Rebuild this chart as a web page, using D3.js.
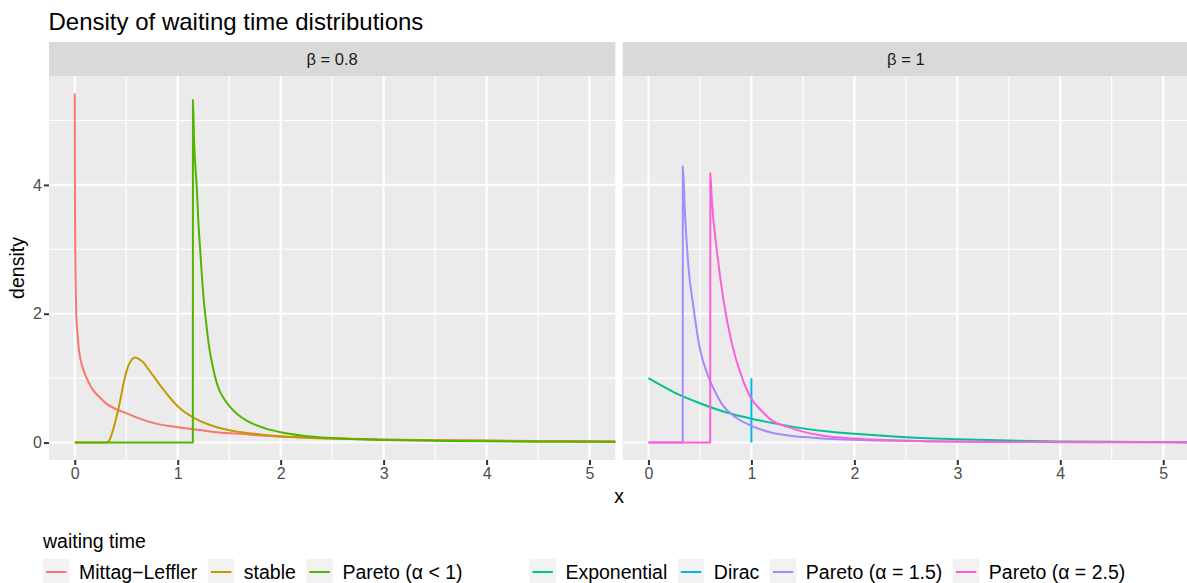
<!DOCTYPE html>
<html><head><meta charset="utf-8">
<script src="https://cdn.jsdelivr.net/npm/d3@7"></script>
<style>body{margin:0;background:#fff} svg{display:block} text{font-family:"Liberation Sans",Arial,Helvetica,sans-serif}</style>
</head><body><svg id="c" width="1187" height="583"></svg>
<script>
// ---------- data ----------
const titleText = "Density of waiting time distributions";
const panelLabels = ["β = 0.8", "β = 1"];
const xTicks = [0, 1, 2, 3, 4, 5];
const xMinor = [0.5, 1.5, 2.5, 3.5, 4.5];
const yTicks = [0, 2, 4];
const yMinor = [1, 3, 5];
const seriesNames = ["Mittag−Leffler", "stable", "Pareto (α < 1)", "Exponential", "Dirac", "Pareto (α = 1.5)", "Pareto (α = 2.5)"];
const seriesPanel = [0, 0, 0, 1, 1, 1, 1];
const seriesColors = ["#F8766D", "#C49A00", "#53B400", "#00C094", "#00B6EB", "#A58AFF", "#FB61D7"];

const mlX = [0, 0.002, 0.005, 0.008, 0.015, 0.025, 0.037, 0.055, 0.085, 0.13, 0.18, 0.25, 0.31, 0.4, 0.51, 0.65, 0.8, 0.95, 1.14, 1.35, 1.61, 1.85, 2.09, 2.5, 3, 3.5, 4, 4.5, 5, 5.5, 6];
const mlY = [5.42, 3.8, 3.0, 2.53, 2.0, 1.72, 1.49, 1.3, 1.125, 0.95, 0.81, 0.69, 0.60, 0.52, 0.45, 0.36, 0.29, 0.25, 0.21, 0.165, 0.135, 0.105, 0.085, 0.065, 0.048, 0.037, 0.03, 0.025, 0.021, 0.018, 0.015];

const stX = [0, 0.25, 0.3, 0.33, 0.36, 0.39, 0.425, 0.45, 0.474, 0.5, 0.52, 0.55, 0.587, 0.62, 0.668, 0.71, 0.765, 0.81, 0.862, 0.96, 1.03, 1.14, 1.3, 1.445, 1.6, 1.8, 2.0, 2.3, 2.6, 3, 3.5, 4, 4.5, 5, 5.5, 6];
const stY = [0, 0, 0.0, 0.02, 0.13, 0.3, 0.53, 0.72, 0.92, 1.09, 1.19, 1.28, 1.32, 1.30, 1.24, 1.15, 1.03, 0.93, 0.82, 0.63, 0.52, 0.40, 0.28, 0.21, 0.165, 0.125, 0.097, 0.072, 0.058, 0.045, 0.034, 0.027, 0.022, 0.018, 0.015, 0.013];

const p1X = [0, 1.147, 1.148, 1.16, 1.186, 1.2, 1.218, 1.25, 1.275, 1.30, 1.34, 1.38, 1.42, 1.45, 1.51, 1.58, 1.67, 1.85, 2.0, 2.2, 2.48, 2.75, 2.97, 3.5, 4, 4.5, 5, 5.5, 6];
const p1Y = [0, 0, 5.32, 4.65, 3.94, 3.45, 3.0, 2.27, 1.88, 1.54, 1.18, 0.92, 0.76, 0.68, 0.55, 0.44, 0.34, 0.22, 0.16, 0.11, 0.07, 0.05, 0.04, 0.027, 0.019, 0.014, 0.011, 0.009, 0.007];

const exX = [0, 0.25, 0.5, 0.75, 1, 1.25, 1.5, 1.75, 2, 2.5, 3, 3.5, 4, 4.5, 5, 5.5, 6];
const exY = [1.0, 0.78, 0.61, 0.47, 0.37, 0.29, 0.22, 0.17, 0.135, 0.082, 0.05, 0.03, 0.018, 0.011, 0.007, 0.004, 0.0025];

const diX = [1, 1];
const diY = [0, 1];

const p15X = [0, 0.333, 0.334, 0.356, 0.388, 0.437, 0.502, 0.583, 0.65, 0.712, 0.84, 1.0, 1.18, 1.36, 1.6, 1.84, 2.23, 2.7, 3.2, 4, 5, 6];
const p15Y = [0, 0, 4.29, 3.52, 2.74, 2.1, 1.44, 1.02, 0.78, 0.60, 0.40, 0.26, 0.16, 0.11, 0.075, 0.05, 0.03, 0.018, 0.012, 0.007, 0.004, 0.003];

const p25X = [0, 0.6, 0.601, 0.615, 0.663, 0.728, 0.81, 0.906, 1.0, 1.1, 1.2, 1.36, 1.5, 1.68, 2.0, 2.23, 2.6, 3, 3.5, 4, 5, 6];
const p25Y = [0, 0, 4.18, 3.78, 3.0, 2.22, 1.54, 1.02, 0.68, 0.49, 0.34, 0.24, 0.17, 0.11, 0.062, 0.042, 0.025, 0.015, 0.009, 0.005, 0.003, 0.0013];

const seriesX = [mlX, stX, p1X, exX, diX, p15X, p25X];
const seriesY = [mlY, stY, p1Y, exY, diY, p15Y, p25Y];

// ---------- layout ----------
const svg = d3.select("#c");
const panelTop = 76, panelBottom = 460, stripTop = 42;
const panelsPx = [[49, 615.3], [622.7, 1189]];
const y = d3.scaleLinear().domain([-0.271, 5.691]).range([panelBottom, panelTop]);
const xs = panelsPx.map(p => d3.scaleLinear().domain([-0.25, 5.25]).range(p));

svg.append("text").attr("x", 48.5).attr("y", 29.5).attr("font-size", 24).attr("fill", "#000").text(titleText);

const defs = svg.append("defs");
panelsPx.forEach((p, i) => {
  defs.append("clipPath").attr("id", "clip" + i).append("rect")
    .attr("x", p[0]).attr("y", panelTop).attr("width", p[1] - p[0]).attr("height", panelBottom - panelTop);
});

panelsPx.forEach((p, i) => {
  const x = xs[i];
  const g = svg.append("g");
  g.append("rect").attr("x", p[0]).attr("y", panelTop).attr("width", p[1] - p[0]).attr("height", panelBottom - panelTop).attr("fill", "#EBEBEB");
  // strip
  g.append("rect").attr("x", p[0]).attr("y", stripTop).attr("width", p[1] - p[0]).attr("height", panelTop - stripTop).attr("fill", "#D9D9D9");
  g.append("text").attr("x", x(2.5)).attr("y", (stripTop + panelTop) / 2).attr("dy", "0.36em")
    .attr("text-anchor", "middle").attr("font-size", 16.5).attr("fill", "#1A1A1A").text(panelLabels[i]);
  const gg = g.append("g").attr("clip-path", `url(#clip${i})`);
  yMinor.forEach(v => gg.append("line").attr("x1", p[0]).attr("x2", p[1]).attr("y1", y(v)).attr("y2", y(v)).attr("stroke", "#fff").attr("stroke-width", 1.1));
  xMinor.forEach(v => gg.append("line").attr("x1", x(v)).attr("x2", x(v)).attr("y1", panelTop).attr("y2", panelBottom).attr("stroke", "#fff").attr("stroke-width", 1.1));
  yTicks.forEach(v => gg.append("line").attr("x1", p[0]).attr("x2", p[1]).attr("y1", y(v)).attr("y2", y(v)).attr("stroke", "#fff").attr("stroke-width", 2.1));
  xTicks.forEach(v => gg.append("line").attr("x1", x(v)).attr("x2", x(v)).attr("y1", panelTop).attr("y2", panelBottom).attr("stroke", "#fff").attr("stroke-width", 2.1));
  // series
  const smooth = d3.line().x(d => x(d[0])).y(d => y(d[1])).curve(d3.curveMonotoneX);
  const straight = d3.line().x(d => x(d[0])).y(d => y(d[1]));
  seriesNames.forEach((nm, k) => {
    if (seriesPanel[k] !== i) return;
    const pts = seriesX[k].map((v, j) => [v, seriesY[k][j]]);
    const gen = pts.length > 2 ? smooth : straight;
    gg.append("path").attr("d", gen(pts)).attr("fill", "none").attr("stroke", seriesColors[k]).attr("stroke-width", 2).attr("stroke-linejoin", "round");
  });
  // x axis
  const ax = g.append("g").attr("transform", `translate(0,${panelBottom})`)
    .call(d3.axisBottom(x).tickValues(xTicks).tickSize(5).tickPadding(3).tickFormat(d3.format("d")));
  ax.select(".domain").remove();
  ax.selectAll("line").attr("stroke", "#333").attr("stroke-width", 2);
  ax.selectAll("text").attr("font-size", 16).attr("fill", "#4D4D4D").attr("font-family", '"Liberation Sans",Arial,sans-serif');
});

// y axis
const ay = svg.append("g").attr("transform", `translate(${panelsPx[0][0]},0)`)
  .call(d3.axisLeft(y).tickValues(yTicks).tickSize(5).tickPadding(2).tickFormat(d3.format("d")));
ay.select(".domain").remove();
ay.selectAll("line").attr("stroke", "#333").attr("stroke-width", 2);
ay.selectAll("text").attr("font-size", 16).attr("fill", "#4D4D4D").attr("font-family", '"Liberation Sans",Arial,sans-serif');

// axis titles
svg.append("text").attr("x", (panelsPx[0][0] + panelsPx[1][1]) / 2).attr("y", 503).attr("text-anchor", "middle").attr("font-size", 19.5).attr("fill", "#000").text("x");
svg.append("text").attr("transform", `translate(24,${(panelTop + panelBottom) / 2}) rotate(-90)`).attr("text-anchor", "middle").attr("font-size", 19.5).attr("fill", "#000").text("density");

// legend
svg.append("text").attr("x", 43).attr("y", 547.5).attr("font-size", 19.5).attr("fill", "#000").text("waiting time");
const groupStart = [43, 529.4];
const groupOf = seriesPanel;
let cursor = [groupStart[0], groupStart[1]];
const keyW = 26.5, keyH = 26.5, keyCy = 572;
seriesNames.forEach((nm, k) => {
  const gi = groupOf[k];
  const bx = cursor[gi];
  svg.append("rect").attr("x", bx).attr("y", keyCy - keyH / 2).attr("width", keyW).attr("height", keyH).attr("fill", "#F2F2F2");
  svg.append("line").attr("x1", bx + 3).attr("x2", bx + keyW - 3).attr("y1", keyCy).attr("y2", keyCy).attr("stroke", seriesColors[k]).attr("stroke-width", 2);
  const t = svg.append("text").attr("x", bx + 36).attr("y", keyCy + 7).attr("font-size", 19.5).attr("fill", "#000").text(nm);
  const w = t.node().getComputedTextLength();
  cursor[gi] = bx + 36 + w + 10.5;
});
</script></body></html>
